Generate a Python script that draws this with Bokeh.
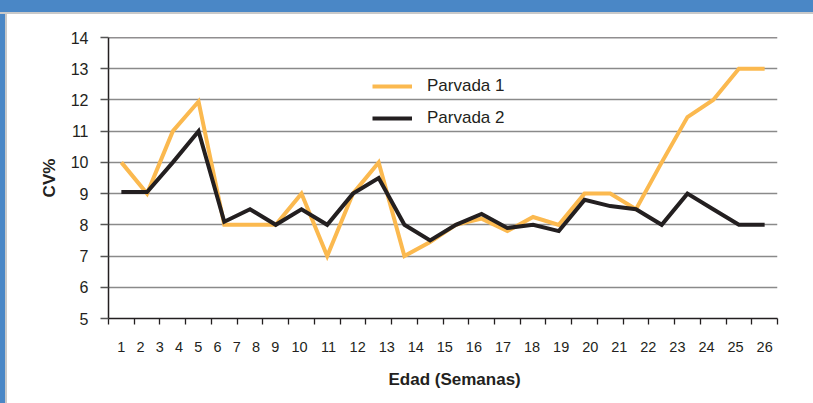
from bokeh.plotting import figure
from bokeh.models import (Range1d, FixedTicker, Span, Legend, LegendItem, Title, Div)
from bokeh.layouts import column, row
from bokeh.embed import file_html
from bokeh.resources import INLINE

# ---- data ----
weeks = list(range(1, 27))
week_labels = [str(w) for w in weeks]
parvada1 = [10, 9, 11, 11.95, 8, 8, 8, 9, 7, 9, 10, 7, 7.45, 8, 8.2, 7.8, 8.25, 8.0, 9.0, 9.0, 8.5, 10, 11.45, 12, 13, 13]
parvada2 = [9.05, 9.05, 10, 11, 8.1, 8.5, 8.0, 8.5, 8.0, 9.0, 9.5, 8.0, 7.5, 8.0, 8.35, 7.9, 8.0, 7.8, 8.8, 8.6, 8.5, 8.0, 9.0, 8.5, 8.0, 8.0]
y_ticks = list(range(5, 15))
series_names = ["Parvada 1", "Parvada 2"]
colors = ["#fbb94f", "#231f20"]

TXT = "#231f20"
BLUE = "#4a87c6"
EDGE = "#c9c9c9"

# tick labels in the original are laid out like one spaced string of text
DIGIT, SPACE = 1.0, 0.96
cum = [0.0]
for a, b in zip(week_labels[:-1], week_labels[1:]):
    cum.append(cum[-1] + (len(a) + len(b)) / 2 * DIGIT + SPACE)
span_w = weeks[-1] - weeks[0]
label_pos = [round(weeks[0] + span_w * c / cum[-1], 6) for c in cum]

p = figure(width=806, height=389, output_backend="svg", toolbar_location=None,
           x_range=Range1d(weeks[0] - 0.5, weeks[-1] + 0.5),
           y_range=Range1d(y_ticks[0], y_ticks[-1]),
           min_border_left=101, min_border_right=36, min_border_top=23, min_border_bottom=85,
           margin=0)
p.background_fill_color = "white"
p.border_fill_color = "white"
p.outline_line_color = None

# grid
p.xgrid.visible = False
p.ygrid.ticker = FixedTicker(ticks=y_ticks)
p.ygrid.grid_line_color = "#8a8a8a"
p.ygrid.grid_line_width = 1.5
p.add_layout(Span(location=y_ticks[-1], dimension="width", line_color="#231f20", line_width=1.3))

# y axis
ya = p.yaxis[0]
ya.ticker = FixedTicker(ticks=y_ticks)
ya.axis_line_color = "#231f20"
ya.axis_line_width = 1.5
ya.major_tick_in = 0
ya.major_tick_out = 8
ya.major_tick_line_color = "#555555"
ya.major_tick_line_width = 1.3
ya.minor_tick_line_color = None
ya.major_label_text_font = "Liberation Sans"
ya.major_label_text_font_size = "16px"
ya.major_label_text_color = TXT
ya.major_label_standoff = 12
ya.axis_label = "CV%"
ya.axis_label_text_font = "Liberation Sans"
ya.axis_label_text_font_style = "bold"
ya.axis_label_text_font_size = "17px"
ya.axis_label_text_color = TXT
ya.axis_label_standoff = 9

# x axis
xa = p.xaxis[0]
bounds = [w - 0.5 for w in weeks] + [weeks[-1] + 0.5]
xa.ticker = FixedTicker(ticks=label_pos, minor_ticks=bounds)
xa.major_label_overrides = {pos: lab for pos, lab in zip(label_pos, week_labels)}
xa.axis_line_color = "#231f20"
xa.axis_line_width = 1.5
xa.major_tick_line_color = None
xa.minor_tick_in = 0
xa.minor_tick_out = 6
xa.minor_tick_line_color = "#231f20"
xa.minor_tick_line_width = 1.3
xa.major_label_text_font = "Liberation Sans"
xa.major_label_text_font_size = "14.5px"
xa.major_label_text_color = TXT
xa.major_label_standoff = 17

p.add_layout(Title(text="Edad (Semanas)", align="left", offset=280,
                   text_font="Liberation Sans", text_font_style="bold",
                   text_font_size="17px", text_color=TXT, standoff=27), "below")

# lines
items = []
for name, vals, col in zip(series_names, [parvada1, parvada2], colors):
    r = p.line(weeks, vals, line_color=col, line_width=4, line_join="miter")
    items.append(LegendItem(label=name, renderers=[r]))

legend = Legend(items=items, location=(264, 190), orientation="vertical",
                glyph_width=40, glyph_height=20, label_height=20, spacing=12,
                padding=0, margin=0, label_standoff=15,
                label_text_font="Liberation Sans", label_text_font_size="17px",
                label_text_color=TXT, background_fill_alpha=0, border_line_color=None)
p.add_layout(legend, "center")

top_band = Div(text="", width=813, height=14, margin=0,
               styles={"background": f"linear-gradient(to bottom, {BLUE} 0px, {BLUE} 12px, {EDGE} 12px, {EDGE} 14px)"})
left_band = Div(text="", width=7, height=389, margin=0,
                styles={"background": f"linear-gradient(to right, {BLUE} 0px, {BLUE} 5px, {EDGE} 5px, {EDGE} 7px)"})

layout = column(top_band, row(left_band, p, spacing=0, margin=0), spacing=0, margin=0)

open("out.html", "w").write(file_html(layout, INLINE))
